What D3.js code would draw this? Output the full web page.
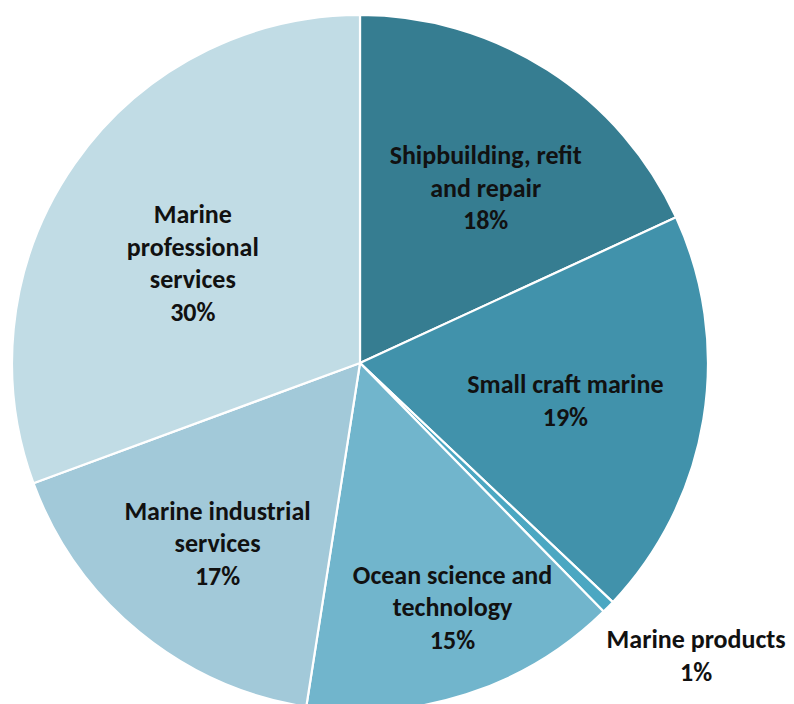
<!DOCTYPE html>
<html>
<head>
<meta charset="utf-8">
<script src="https://cdn.jsdelivr.net/npm/d3@7/dist/d3.min.js"></script>
<style>
  html, body { margin: 0; padding: 0; background: #fff; }
  svg { display: block; }
</style>
</head>
<body>
<svg id="chart" width="794" height="704"></svg>
<script>
// sector shares (%), clockwise from 12 o'clock
const sectors = ["Shipbuilding, refit and repair", "Small craft marine", "Marine products",
  "Ocean science and technology", "Marine industrial services", "Marine professional services"];
const shares = [18.0, 18.8, 0.6, 14.7, 16.8, 30.4];
const shown = ["18%", "19%", "1%", "15%", "17%", "30%"];
const labelLines = [
  ["Shipbuilding, refit", "and repair"],
  ["Small craft marine"],
  ["Marine products"],
  ["Ocean science and", "technology"],
  ["Marine industrial", "services"],
  ["Marine", "professional", "services"]
];
const colors = ["#367d91", "#4192ab", "#4ba7c2", "#71b5cc", "#a2c9d9", "#c1dce5"];

// label distance from centre, as a fraction of the radius
const labelDist = [0.62, 0.6, 1.28, 0.75, 0.66, 0.56];
const labelTurn = [3, 1, -3.5, -3, -1, -4]; // degrees nudge

const W = 794, H = 704, R = 348, cx = 360, cy = 363;
const svg = d3.select("#chart");
const g = svg.append("g").attr("transform", `translate(${cx},${cy})`);

const data = sectors.map((s, i) => ({ name: s, v: shares[i], i }));
const pie = d3.pie().value(d => d.v).sort(null);
const arcs = pie(data);
const arc = d3.arc().innerRadius(0).outerRadius(R);

g.selectAll("path").data(arcs).enter().append("path")
  .attr("d", arc)
  .attr("fill", d => colors[d.data.i])
  .attr("stroke", "#fff").attr("stroke-width", 2.2).attr("stroke-linejoin", "round");

const lh = 32.5;
g.selectAll("text.lbl").data(arcs).enter().append("text")
  .attr("class", "lbl")
  .attr("text-anchor", "middle")
  .attr("font-family", "Carlito, Calibri, 'Liberation Sans', Arial, sans-serif")
  .attr("font-weight", 700).attr("font-size", 26).attr("fill", "#111")
  .each(function (d) {
    const i = d.data.i;
    const a = (d.startAngle + d.endAngle) / 2 + labelTurn[i] * Math.PI / 180;
    const r = R * labelDist[i];
    const x = Math.sin(a) * r, y = -Math.cos(a) * r;
    const lines = labelLines[i].concat([shown[i]]);
    const y0 = y - (lines.length - 1) * lh / 2;
    const t = d3.select(this);
    lines.forEach((ln, k) => {
      t.append("tspan").attr("x", x).attr("y", y0 + k * lh).attr("dy", "0.35em").text(ln);
    });
  });
</script>
</body>
</html>
